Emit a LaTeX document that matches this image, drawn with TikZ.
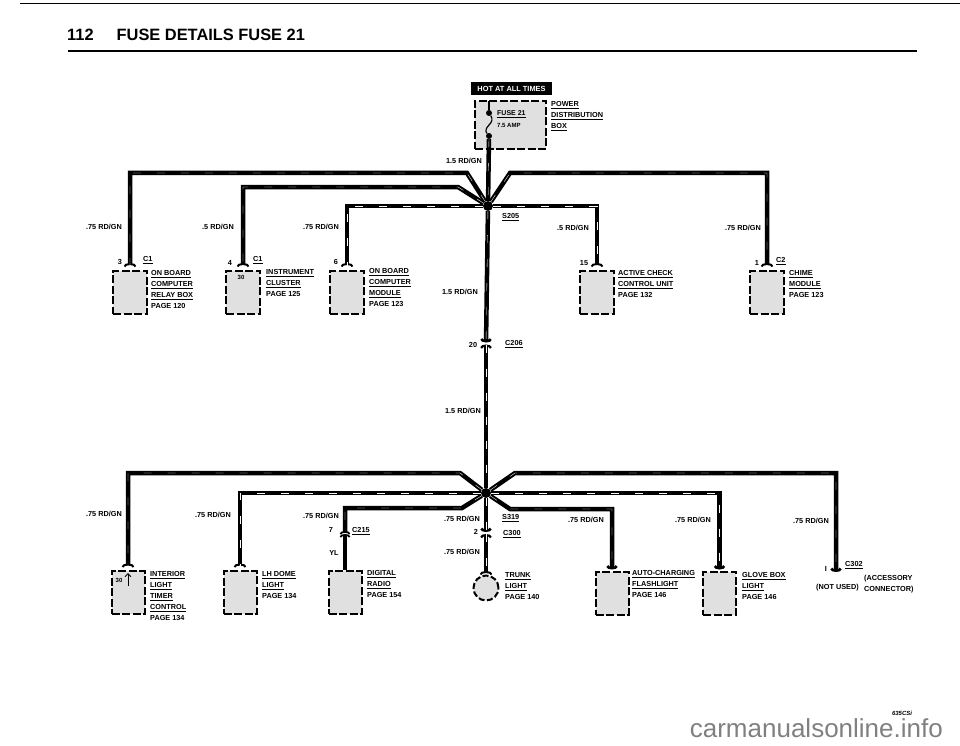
\documentclass[tikz,border=0pt]{standalone}
\usepackage{fontspec}
\setmainfont{Liberation Sans}
\usetikzlibrary{arrows.meta}
\tikzstyle{Unit}=[rectangle, minimum width=34, minimum height=43, draw=black, fill=black!12, line width=2, dash pattern=on 8 off 2.5, inner sep=0]
\tikzstyle{Lbl}=[font=\bfseries\fontsize{7.3}{11}\selectfont, inner sep=0, align=left]
\tikzstyle{Wire}=[line width=4.5, line join=miter, draw=black, postaction={draw=white, line width=0.35, dash pattern=on 8 off 16, arrows=-}]
\tikzstyle{Female}=[-{Arc Barb[reversed, length=3.5, width=13, line width=2]}, shorten >=3]
\tikzstyle{Male}=[-{Arc Barb[length=3.5, width=12, line width=2.6]}, shorten >=1]
\tikzstyle{Splice}=[circle, fill=black, inner sep=0, minimum size=10]
\newcommand{\Ul}[1]{\underline{#1}}

\begin{document}
\begin{tikzpicture}[x=1pt, y=-1pt]
    \useasboundingbox (0,0) rectangle (960,746);
    \coordinate (rulea) at (20,3.5);
    \coordinate (ruleb) at (960,3.5);
    \coordinate (rulec) at (68,51);
    \coordinate (ruled) at (917,51);
    \draw[line width=1.8] (rulea) -- (ruleb);
    \draw[line width=1.8] (rulec) -- (ruled);
    \path (67,41) node[anchor=base west, inner sep=0, font=\bfseries\fontsize{16.4}{20}\selectfont] (title) {112\hspace{23pt}FUSE DETAILS FUSE 21};

    \path
    (511.5,88.5) node[rectangle, fill=black, text=white, minimum width=81, minimum height=13, inner sep=0, font=\bfseries\fontsize{7.4}{9}\selectfont] (hot) {HOT AT ALL TIMES}
    (510.5,125) node[Unit, minimum width=71, minimum height=48] (fusebox) {}
    (489,113) node[Splice, minimum size=6] (fusea) {}
    (489,136) node[Splice, minimum size=6] (fuseb) {}
    coordinate (fusetop) at (489,101)
    (488,206) node[Splice] (s205) {}
    (486,493) node[Splice] (s319) {}
    coordinate (up1) at (467,173)
    coordinate (up2) at (458,187)
    coordinate (up3) at (510,173)
    coordinate (c206a) at (486,343.5)
    coordinate (c206b) at (486,344.5)
    (130,292) node[Unit] (obcrelay) {}
    (243,292) node[Unit] (cluster) {}
    (347,292) node[Unit] (obcmod) {}
    (597,292) node[Unit] (check) {}
    (767,292) node[Unit] (chime) {}
    coordinate (lo1) at (460,473)
    coordinate (lo3) at (462,508)
    coordinate (lo4) at (515,473)
    coordinate (lo6) at (510,509)
    coordinate (c215a) at (345,534)
    coordinate (c215b) at (345,534)
    coordinate (c300a) at (486,533)
    coordinate (c300b) at (486,534)
    coordinate (c302) at (836,573)
    (128,592.5) node[Unit, minimum width=33] (timer) {}
    (240,592.5) node[Unit, minimum width=33] (dome) {}
    (345,592.5) node[Unit, minimum width=33] (radio) {}
    (486,588) node[circle, draw=black, fill=black!12, line width=2, dash pattern=on 6 off 2.5, minimum size=25, inner sep=0] (trunk) {}
    (612,593) node[Unit, minimum width=33] (charger) {}
    (719.5,593) node[Unit, minimum width=33] (glove) {};

    \draw[line width=1.5] (fusetop) -- (fusea);
    \draw[line width=1.2] (fusea) .. controls (493,119) and (492,122) .. (489,125) .. controls (486,128) and (485,131) .. (fuseb);
    \draw[Wire] (fuseb) -- (s205);
    \draw[Wire, Female] (s205) -- (up1) -| (obcrelay.north);
    \draw[Wire, Female] (s205) -- (up2) -| (cluster.north);
    \draw[Wire, Female] (s205) -| (obcmod.north);
    \draw[Wire, Female] (s205) -- (up3) -| (chime.north);
    \draw[Wire, Female] (s205) -| (check.north);
    \draw[Wire, Male] (s205) -- (c206a);
    \draw[Wire, {Arc Barb[length=3.5, width=12, line width=2.2]}-] (c206b) -- (s319);
    \draw[Wire, Female] (s319) -- (lo1) -| (timer.north);
    \draw[Wire, Female] (s319) -| (dome.north);
    \draw[Wire, -{Arc Barb[reversed, length=3, width=11, line width=1.8]}] (s319) -- (lo3) -| (c215a);
    \draw[line width=4.5, {Arc Barb[length=3, width=11, line width=1.8]}-] (c215b) -- (radio.north);
    \draw[Wire, Male] (s319) -- (c300a);
    \draw[Wire, {Arc Barb[length=3.5, width=12, line width=2.2]}-{Arc Barb[reversed, length=3.5, width=13, line width=2]}, shorten >=0] (c300b) -- (trunk.north);
    \draw[Wire, Male] (s319) -- (lo4) -| (c302);
    \draw[Wire, Male] (s319) -| (glove.north);
    \draw[Wire, Male] (s319) -- (lo6) -| (charger.north);

    \path
    (497,114) node[Lbl, anchor=west, font=\bfseries\fontsize{7}{9}\selectfont] (fusetxta) {\Ul{FUSE 21}}
    (497,125) node[Lbl, anchor=west, font=\bfseries\fontsize{6}{8}\selectfont] (fusetxtb) {7.5 AMP}
    (551,101) node[Lbl, anchor=north west] (powertxt) {\Ul{POWER}\\\Ul{DISTRIBUTION}\\\Ul{BOX}}
    (482,161) node[Lbl, anchor=east] (w15a) {1.5 RD/GN}
    (122,227) node[Lbl, anchor=east] (w75a) {.75 RD/GN}
    (234,227) node[Lbl, anchor=east] (w5a) {.5 RD/GN}
    (339,227) node[Lbl, anchor=east] (w75b) {.75 RD/GN}
    (589,228) node[Lbl, anchor=east] (w5b) {.5 RD/GN}
    (761,228) node[Lbl, anchor=east] (w75c) {.75 RD/GN}
    (478,292) node[Lbl, anchor=east] (w15b) {1.5 RD/GN}
    (481,411) node[Lbl, anchor=east] (w15c) {1.5 RD/GN}
    (502,217) node[Lbl, anchor=west] (s205txt) {\Ul{S205}}
    (120,262) node[Lbl] (pin3) {3}
    (143,260) node[Lbl, anchor=west] (c1a) {\Ul{C1}}
    (230,263) node[Lbl] (pin4) {4}
    (253,260) node[Lbl, anchor=west] (c1b) {\Ul{C1}}
    (336,262) node[Lbl] (pin6) {6}
    (584,263) node[Lbl] (pin15) {15}
    (757,263) node[Lbl] (pin1) {1}
    (776,261) node[Lbl, anchor=west] (c2txt) {\Ul{C2}}
    (241,277) node[Lbl, font=\bfseries\fontsize{6}{8}\selectfont] (pin30a) {30}
    (151,270.5) node[Lbl, anchor=north west] (obcrelaytxt) {\Ul{ON BOARD}\\\Ul{COMPUTER}\\\Ul{RELAY BOX}\\PAGE 120}
    (266,269.5) node[Lbl, anchor=north west] (clustertxt) {\Ul{INSTRUMENT}\\\Ul{CLUSTER}\\PAGE 125}
    (369,268.5) node[Lbl, anchor=north west] (obcmodtxt) {\Ul{ON BOARD}\\\Ul{COMPUTER}\\\Ul{MODULE}\\PAGE 123}
    (618,270.5) node[Lbl, anchor=north west] (checktxt) {\Ul{ACTIVE CHECK}\\\Ul{CONTROL UNIT}\\PAGE 132}
    (789,270.5) node[Lbl, anchor=north west] (chimetxt) {\Ul{CHIME}\\\Ul{MODULE}\\PAGE 123}
    (473,345) node[Lbl] (pin20) {20}
    (505,344) node[Lbl, anchor=west] (c206txt) {\Ul{C206}}
    (122,514) node[Lbl, anchor=east] (w75d) {.75 RD/GN}
    (231,515) node[Lbl, anchor=east] (w75e) {.75 RD/GN}
    (339,516) node[Lbl, anchor=east] (w75f) {.75 RD/GN}
    (480,519) node[Lbl, anchor=east] (w75g) {.75 RD/GN}
    (604,520) node[Lbl, anchor=east] (w75h) {.75 RD/GN}
    (711,520) node[Lbl, anchor=east] (w75i) {.75 RD/GN}
    (829,521) node[Lbl, anchor=east] (w75j) {.75 RD/GN}
    (480,552) node[Lbl, anchor=east] (w75k) {.75 RD/GN}
    (502,518) node[Lbl, anchor=west] (s319txt) {\Ul{S319}}
    (476,532) node[Lbl] (pin2) {2}
    (503,534) node[Lbl, anchor=west] (c300txt) {\Ul{C300}}
    (331,530) node[Lbl] (pin7) {7}
    (352,531) node[Lbl, anchor=west] (c215txt) {\Ul{C215}}
    (334,553) node[Lbl] (yltxt) {YL}
    (826,569) node[Lbl] (pinI) {I}
    (845,565) node[Lbl, anchor=west] (c302txt) {\Ul{C302}}
    (864,578.5) node[Lbl, anchor=west] (acctxt) {(ACCESSORY}
    (864,590) node[Lbl, anchor=west] (conntxt) {CONNECTOR)}
    (816,588) node[Lbl, anchor=west] (nottxt) {(NOT USED)}
    (119,580) node[Lbl, font=\bfseries\fontsize{6}{8}\selectfont] (pin30b) {30}
    coordinate (arrowa) at (128,586)
    coordinate (arrowb) at (128,573)
    (150,571.5) node[Lbl, anchor=north west] (timertxt) {\Ul{INTERIOR}\\\Ul{LIGHT}\\\Ul{TIMER}\\\Ul{CONTROL}\\PAGE 134}
    (262,571.5) node[Lbl, anchor=north west] (dometxt) {\Ul{LH DOME}\\\Ul{LIGHT}\\PAGE 134}
    (367,570.5) node[Lbl, anchor=north west] (radiotxt) {\Ul{DIGITAL}\\\Ul{RADIO}\\PAGE 154}
    (505,572.5) node[Lbl, anchor=north west] (trunktxt) {\Ul{TRUNK}\\\Ul{LIGHT}\\PAGE 140}
    (632,570.5) node[Lbl, anchor=north west] (chargertxt) {\Ul{AUTO-CHARGING}\\\Ul{FLASHLIGHT}\\PAGE 146}
    (742,572.5) node[Lbl, anchor=north west] (glovetxt) {\Ul{GLOVE BOX}\\\Ul{LIGHT}\\PAGE 146}
    (902,713) node[inner sep=0, font=\itshape\bfseries\fontsize{6}{7}\selectfont] (modeltxt) {635CSi}
    (943,737) node[anchor=base east, inner sep=0, text=black!50, font=\fontsize{26}{30}\selectfont] (marktxt) {carmanualsonline.info};
    \draw[line width=1, -{Straight Barb[length=3, width=6]}] (arrowa) -- (arrowb);
\end{tikzpicture}
\end{document}
